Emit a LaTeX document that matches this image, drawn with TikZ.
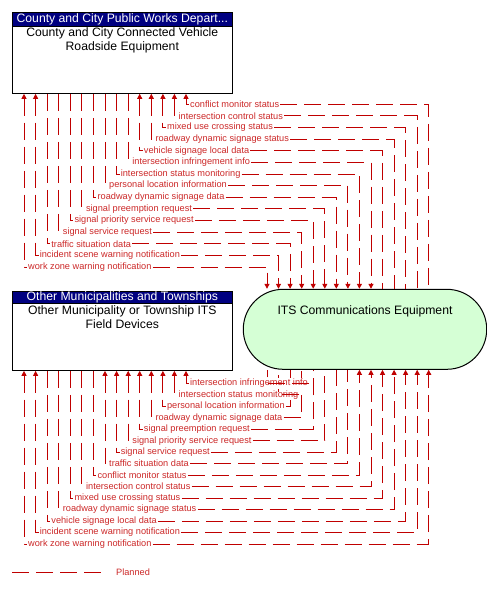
\documentclass[tikz,border=0pt]{standalone}
\usepackage{fontspec}
\setmainfont{Liberation Sans}
\usepackage{tikz}
\usetikzlibrary{arrows.meta,positioning}
\definecolor{flowred}{RGB}{192,0,0}
\definecolor{labred}{RGB}{204,40,40}
\definecolor{hdrblue}{RGB}{0,0,128}
\definecolor{itsgreen}{RGB}{213,255,213}
\tikzset{
  box/.style={draw=black,line width=1pt,fill=white,minimum width=220pt,inner sep=0pt},
  hdr/.style={draw=black,line width=1pt,fill=hdrblue,text=white,minimum width=220pt,inner sep=0pt,font=\fontsize{12.2}{14}\selectfont},
  btxt/.style={align=center,inner sep=0pt,font=\fontsize{12.2}{14}\selectfont},
  flow/.style={draw=flowred,line width=1pt,dash pattern=on 17pt off 7pt},
  lbl/.style={anchor=west,inner sep=1pt,fill=white,text=labred,font=\fontsize{9.2}{10}\selectfont}
}
\begin{document}
\begin{tikzpicture}[x=1pt,y=-1pt,>={Triangle[length=5pt,width=5pt]}]
\useasboundingbox (0,0) rectangle (487,590);
\node[box,minimum height=80.6pt] (cc) at (122.3,53) {};
\node[hdr,minimum height=13.3pt] (ccH) at (122.3,19.35) {County and City Public Works Depart...};
\node[btxt] (ccT) at (122.3,40.5) {County and City Connected Vehicle\\Roadside Equipment};
\node[box,minimum height=79.3pt] (ot) at (122.3,330.7) {};
\node[hdr,minimum height=12.7pt] (otH) at (122.3,297.35) {Other Municipalities and Townships};
\node[btxt] (otT) at (122.3,317.5) {Other Municipality or Township ITS\\Field Devices};
\node[draw=black,line width=1pt,fill=itsgreen,rounded corners=39.9pt,minimum width=243.4pt,minimum height=80pt] (its) at (365,329.3) {};
\node[btxt] (itsT) at (365,311) {ITS Communications Equipment};
% flows up top
\node[lbl] (a1) at (189,104.3) {conflict monitor status}; \draw[flow,<-] (cc.south -| 186,0) |- (a1.west); \draw[flow] (a1.east) -| (its.north -| 428.7,0);
\node[lbl] (a2) at (177.4,115.9) {intersection control status}; \draw[flow,<-] (cc.south -| 174.4,0) |- (a2.west); \draw[flow] (a2.east) -| (its.north -| 417.2,0);
\node[lbl] (a3) at (165.9,127.5) {mixed use crossing status}; \draw[flow,<-] (cc.south -| 162.9,0) |- (a3.west); \draw[flow] (a3.east) -| (its.north -| 405.6,0);
\node[lbl] (a4) at (154.3,139.2) {roadway dynamic signage status}; \draw[flow,<-] (cc.south -| 151.3,0) |- (a4.west); \draw[flow] (a4.east) -| (its.north -| 394.1,0);
\node[lbl] (a5) at (142.7,150.8) {vehicle signage local data}; \draw[flow,<-] (cc.south -| 139.7,0) |- (a5.west); \draw[flow] (a5.east) -| (its.north -| 382.5,0);
\node[lbl] (a6) at (131.2,162.4) {intersection infringement info}; \draw[flow] (cc.south -| 128.2,0) |- (a6.west); \draw[flow,->] (a6.east) -| (its.north -| 371,0);
\node[lbl] (a7) at (119.6,174) {intersection status monitoring}; \draw[flow] (cc.south -| 116.6,0) |- (a7.west); \draw[flow,->] (a7.east) -| (its.north -| 359.4,0);
\node[lbl] (a8) at (108,185.6) {personal location information}; \draw[flow] (cc.south -| 105,0) |- (a8.west); \draw[flow,->] (a8.east) -| (its.north -| 347.9,0);
\node[lbl] (a9) at (96.4,197.3) {roadway dynamic signage data}; \draw[flow] (cc.south -| 93.4,0) |- (a9.west); \draw[flow,->] (a9.east) -| (its.north -| 336.3,0);
\node[lbl] (a10) at (84.9,208.9) {signal preemption request}; \draw[flow] (cc.south -| 81.9,0) |- (a10.west); \draw[flow,->] (a10.east) -| (its.north -| 324.8,0);
\node[lbl] (a11) at (73.3,220.5) {signal priority service request}; \draw[flow] (cc.south -| 70.3,0) |- (a11.west); \draw[flow,->] (a11.east) -| (its.north -| 313.2,0);
\node[lbl] (a12) at (61.7,232.1) {signal service request}; \draw[flow] (cc.south -| 58.7,0) |- (a12.west); \draw[flow,->] (a12.east) -| (its.north -| 301.7,0);
\node[lbl] (a13) at (50.2,243.8) {traffic situation data}; \draw[flow] (cc.south -| 47.2,0) |- (a13.west); \draw[flow,->] (a13.east) -| (its.north -| 290.1,0);
\node[lbl] (a14) at (38.6,255.4) {incident scene warning notification}; \draw[flow,<-] (cc.south -| 35.6,0) |- (a14.west); \draw[flow,->] (a14.east) -| (its.north -| 278.5,0);
\node[lbl] (a15) at (27,267) {work zone warning notification}; \draw[flow,<-] (cc.south -| 24,0) |- (a15.west); \draw[flow,->] (a15.east) -| (its.north -| 267,0);
% flows down below, last one first so the labels sit over the lines
\node[lbl] (b15) at (27,544) {work zone warning notification}; \draw[flow,<-] (ot.south -| 24,0) |- (b15.west); \draw[flow,->] (b15.east) -| (its.south -| 428.7,0);
\node[lbl] (b14) at (38.6,532.5) {incident scene warning notification}; \draw[flow,<-] (ot.south -| 35.6,0) |- (b14.west); \draw[flow,->] (b14.east) -| (its.south -| 417.2,0);
\node[lbl] (b13) at (50.2,521.1) {vehicle signage local data}; \draw[flow] (ot.south -| 47.2,0) |- (b13.west); \draw[flow,->] (b13.east) -| (its.south -| 405.6,0);
\node[lbl] (b12) at (61.7,509.6) {roadway dynamic signage status}; \draw[flow] (ot.south -| 58.7,0) |- (b12.west); \draw[flow,->] (b12.east) -| (its.south -| 394.1,0);
\node[lbl] (b11) at (73.3,498.1) {mixed use crossing status}; \draw[flow] (ot.south -| 70.3,0) |- (b11.west); \draw[flow,->] (b11.east) -| (its.south -| 382.5,0);
\node[lbl] (b10) at (84.9,486.6) {intersection control status}; \draw[flow] (ot.south -| 81.9,0) |- (b10.west); \draw[flow,->] (b10.east) -| (its.south -| 371,0);
\node[lbl] (b9) at (96.4,475.1) {conflict monitor status}; \draw[flow] (ot.south -| 93.4,0) |- (b9.west); \draw[flow,->] (b9.east) -| (its.south -| 359.4,0);
\node[lbl] (b8) at (108,463.7) {traffic situation data}; \draw[flow,<-] (ot.south -| 105,0) |- (b8.west); \draw[flow] (b8.east) -| (its.south -| 347.9,0);
\node[lbl] (b7) at (119.6,452.2) {signal service request}; \draw[flow,<-] (ot.south -| 116.6,0) |- (b7.west); \draw[flow] (b7.east) -| (its.south -| 336.3,0);
\node[lbl] (b6) at (131.2,440.7) {signal priority service request}; \draw[flow,<-] (ot.south -| 128.2,0) |- (b6.west); \draw[flow] (b6.east) -| (its.south -| 324.8,0);
\node[lbl] (b5) at (142.7,429.2) {signal preemption request}; \draw[flow,<-] (ot.south -| 139.7,0) |- (b5.west); \draw[flow] (b5.east) -| (its.south -| 313.2,0);
\node[lbl] (b4) at (154.3,417.7) {roadway dynamic signage data}; \draw[flow,<-] (ot.south -| 151.3,0) |- (b4.west); \draw[flow] (b4.east) -| (its.south -| 301.7,0);
\node[lbl] (b3) at (165.9,406.3) {personal location information}; \draw[flow,<-] (ot.south -| 162.9,0) |- (b3.west); \draw[flow] (b3.east) -| (its.south -| 290.1,0);
\node[lbl] (b2) at (177.4,394.8) {intersection status monitoring}; \draw[flow,<-] (ot.south -| 174.4,0) |- (b2.west); \draw[flow] (b2.east) -| (its.south -| 278.5,0);
\node[lbl] (b1) at (189,383.3) {intersection infringement info}; \draw[flow,<-] (ot.south -| 186,0) |- (b1.west); \draw[flow] (b1.east) -| (its.south -| 267,0);
% legend
\coordinate (lg1) at (12,572.3);
\coordinate (lg2) at (101,572.3);
\draw[flow] (lg1) -- (lg2);
\node[lbl] (lgT) at (115,572.3) {Planned};
\end{tikzpicture}
\end{document}
